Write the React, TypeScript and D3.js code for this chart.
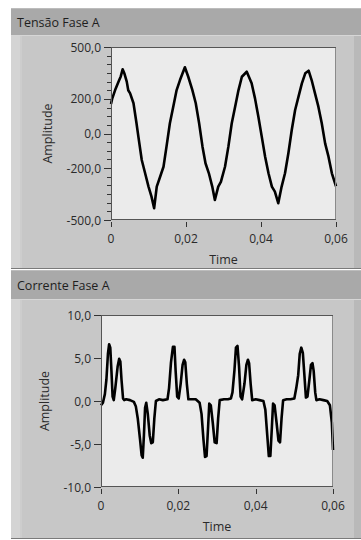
import React from 'react'
import * as d3 from 'd3'

// Tensão Fase A (voltage)
const voltTime = [0, 0.0003, 0.0011, 0.002, 0.0026, 0.0031, 0.0036, 0.0042, 0.0046, 0.0051, 0.006, 0.0068, 0.0073, 0.0082, 0.0091, 0.01, 0.0108, 0.0115, 0.0122, 0.0131, 0.014, 0.0148, 0.0157, 0.0166, 0.0175, 0.0184, 0.0197, 0.0206, 0.0217, 0.0226, 0.0235, 0.0244, 0.0252, 0.0261, 0.027, 0.0277, 0.0286, 0.0293, 0.0304, 0.0313, 0.0322, 0.0331, 0.034, 0.0349, 0.0362, 0.0375, 0.0384, 0.0393, 0.0402, 0.0411, 0.042, 0.0429, 0.0437, 0.0446, 0.0455, 0.0464, 0.0473, 0.0482, 0.0491, 0.05, 0.0509, 0.0518, 0.0527, 0.0535, 0.0544, 0.0553, 0.0562, 0.0571, 0.058, 0.0589, 0.06]
const voltValue = [170, 200, 251, 299, 330, 371, 345, 300, 250, 232, 175, 59, -18, -153, -230, -307, -365, -432, -307, -250, -192, -76, 59, 155, 251, 309, 383, 328, 251, 175, 59, -76, -172, -230, -307, -384, -307, -280, -192, -76, 59, 155, 251, 328, 357, 290, 203, 97, -18, -134, -230, -307, -336, -403, -307, -230, -114, 20, 136, 213, 290, 348, 363, 309, 232, 155, 59, -57, -134, -230, -305]

// Corrente Fase A (current)
const currTime = [
  0, 0.0005, 0.001, 0.0014, 0.0018, 0.0021, 0.0024, 0.0027, 0.003, 0.0033, 0.0037, 0.0043, 0.0047, 0.005, 0.0053, 0.0057, 0.006, 0.0065, 0.0075, 0.0085, 0.009,
  0.0095, 0.0101, 0.0105, 0.0108, 0.0111, 0.0114, 0.0117, 0.0121, 0.0126, 0.013, 0.0134, 0.0138, 0.0142, 0.015, 0.016, 0.0172,
  0.0176, 0.0181, 0.0186, 0.019, 0.0193, 0.0197, 0.0201, 0.0206, 0.0211, 0.0215, 0.0218, 0.0222, 0.0226, 0.0235, 0.0245, 0.0255,
  0.026, 0.0265, 0.0269, 0.0273, 0.0277, 0.028, 0.0284, 0.0289, 0.0294, 0.0299, 0.0303, 0.0307, 0.0318, 0.0328, 0.0336,
  0.034, 0.0345, 0.0349, 0.0353, 0.0357, 0.0361, 0.0365, 0.0371, 0.0376, 0.038, 0.0383, 0.0387, 0.0391, 0.04, 0.041, 0.042,
  0.0425, 0.043, 0.0434, 0.0438, 0.0442, 0.0445, 0.0449, 0.0454, 0.0459, 0.0463, 0.0467, 0.0471, 0.048, 0.049, 0.05,
  0.0505, 0.051, 0.0514, 0.0518, 0.0522, 0.0526, 0.053, 0.0534, 0.0539, 0.0543, 0.0547, 0.055, 0.0554, 0.0557, 0.0565, 0.0575, 0.0585, 0.0592, 0.0597, 0.06]
const currValue = [
  -0.5, -0.2, 0.8, 2.5, 5.5, 6.6, 6.2, 3.5, 0.5, 0.1, 1.5, 4.0, 4.9, 4.6, 2.5, 0.3, 0.1, 0.2, 0.1, -0.1, -0.6,
  -2.0, -4.5, -6.3, -6.6, -4.0, -0.8, -0.2, -1.5, -4.0, -4.9, -4.8, -2.0, 0.0, 0.2, 0.1, 0.2,
  1.5, 4.5, 6.3, 6.3, 3.5, 0.5, 0.3, 2.0, 4.2, 4.8, 4.5, 2.0, 0.2, 0.2, 0.2, -0.2,
  -1.5, -4.5, -6.5, -6.4, -3.0, -0.3, -0.5, -2.5, -4.8, -4.9, -2.0, 0.1, 0.2, 0.2, 0.3,
  1.0, 3.5, 6.2, 6.4, 4.0, 0.5, 0.2, 2.0, 4.2, 4.8, 4.4, 2.0, 0.1, 0.2, 0.1, 0.0,
  -1.0, -4.0, -6.4, -6.4, -3.0, -0.3, -0.5, -2.5, -4.6, -4.8, -2.0, 0.1, 0.2, 0.2, 0.3,
  1.5, 3.0, 5.5, 6.2, 5.6, 3.0, 0.4, 0.5, 2.5, 4.2, 4.4, 3.5, 1.0, 0.1, 0.2, 0.1, 0.0, -0.5, -2.5, -5.7]

const timeTicks = [0, 0.02, 0.04, 0.06]
const voltTicks = [500, 200, 0, -200, -500]
const voltMinor = d3.range(-500, 501, 50)
const currTicks = [10, 5, 0, -5, -10]

const font = "'Open Sans', 'Noto Sans', sans-serif"
const fmtY = (d: number) => d.toFixed(1).replace('.', ',')
const fmtX = (d: number) => (d === 0 ? '0' : d.toFixed(2).replace('.', ','))

type PanelProps = {
  top: number
  barH: number
  bottom: number
  title: string
  plot: { l: number; r: number; t: number; b: number }
  yDomain: [number, number]
  yTicks: number[]
  yMinor: number[]
  times: number[]
  values: number[]
  ampX: number
}

const Panel = ({ top, barH, bottom, title, plot, yDomain, yTicks, yMinor, times, values, ampX }: PanelProps) => {
  const x = d3.scaleLinear().domain([0, 0.06]).range([plot.l, plot.r])
  const y = d3.scaleLinear().domain(yDomain).range([plot.b, plot.t])
  const line = d3.line<number>()
    .x((_, i) => x(times[i]))
    .y(d => y(d))
  const bodyTop = top + barH
  return (
    <g>
      <rect x={11} y={top} width={350} height={barH} fill="#a9a9a9" />
      <line x1={11} x2={361} y1={top + 0.5} y2={top + 0.5} stroke="#bcbcbc" />
      <text x={17} y={top + barH / 2 + 5} fontFamily={font} fontSize={12.5} fill="#1e1e1e">{title}</text>
      <rect x={11} y={bodyTop} width={350} height={bottom - bodyTop} fill="#c7c7c7" />
      <rect x={11} y={bodyTop} width={9} height={bottom - bodyTop} fill="#d4d4d4" />
      <rect x={20} y={bodyTop} width={2} height={bottom - bodyTop} fill="#cdcdcd" />
      <rect x={354} y={bodyTop} width={7} height={bottom - bodyTop} fill="#b9b9b9" />
      <line x1={11} x2={361} y1={bodyTop + 0.5} y2={bodyTop + 0.5} stroke="#d6d6d6" />
      <line x1={11} x2={361} y1={bottom - 0.5} y2={bottom - 0.5} stroke="#7a7a7a" />

      <rect x={plot.l} y={plot.t} width={plot.r - plot.l} height={plot.b - plot.t} fill="#ebebeb" />
      <path d={line(values) ?? ''} fill="none" stroke="#000" strokeWidth={2.6} strokeLinejoin="round" />
      <rect x={plot.l + 0.5} y={plot.t + 0.5} width={plot.r - plot.l - 1} height={plot.b - plot.t - 1} fill="none" stroke="#8a8a8a" />
      <line x1={plot.l} x2={plot.r} y1={plot.t + 0.5} y2={plot.t + 0.5} stroke="#555" />
      <line x1={plot.l + 0.5} x2={plot.l + 0.5} y1={plot.t} y2={plot.b} stroke="#555" />
      <line x1={plot.l} x2={plot.r} y1={plot.b - 0.5} y2={plot.b - 0.5} stroke="#555" />

      {yMinor.map(d => (
        <line key={'m' + d} x1={plot.l - 4} x2={plot.l} y1={Math.round(y(d)) + 0.5} y2={Math.round(y(d)) + 0.5} stroke="#333" />
      ))}
      {yTicks.map(d => (
        <g key={'y' + d}>
          <line x1={plot.l - 7} x2={plot.l} y1={Math.round(y(d)) + 0.5} y2={Math.round(y(d)) + 0.5} stroke="#333" />
          <text x={plot.l - 10} y={y(d) + 4.5} textAnchor="end" fontFamily={font} fontSize={12} fill="#2a2a2a">{fmtY(d)}</text>
        </g>
      ))}
      {timeTicks.map(d => (
        <g key={'x' + d}>
          <line x1={Math.round(x(d)) + 0.5} x2={Math.round(x(d)) + 0.5} y1={plot.b + 2} y2={plot.b + 7} stroke="#333" />
          <text x={x(d)} y={plot.b + 23} textAnchor="middle" fontFamily={font} fontSize={12} fill="#2a2a2a">{fmtX(d)}</text>
        </g>
      ))}
      <text x={(plot.l + plot.r) / 2} y={plot.b + 44} textAnchor="middle" fontFamily={font} fontSize={12.5} fill="#2a2a2a">Time</text>
      <text transform={`translate(${ampX},${(plot.t + plot.b) / 2}) rotate(-90)`} textAnchor="middle" fontFamily={font} fontSize={12.5} fill="#2a2a2a">Amplitude</text>
    </g>
  )
}

export default function App() {
  return (
    <svg width={361} height={540} style={{ position: 'absolute', left: 0, top: 0 }}>
      <rect width={361} height={540} fill="#fff" />
      <Panel top={8} barH={27} bottom={269} title="Tensão Fase A"
        plot={{ l: 111, r: 336, t: 47, b: 220 }} yDomain={[-500, 500]}
        yTicks={voltTicks} yMinor={voltMinor} times={voltTime} values={voltValue} ampX={52} />
      <Panel top={270} barH={29} bottom={539} title="Corrente Fase A"
        plot={{ l: 101, r: 333, t: 315, b: 487 }} yDomain={[-10, 10]}
        yTicks={currTicks} yMinor={[]} times={currTime} values={currValue} ampX={49} />
    </svg>
  )
}
